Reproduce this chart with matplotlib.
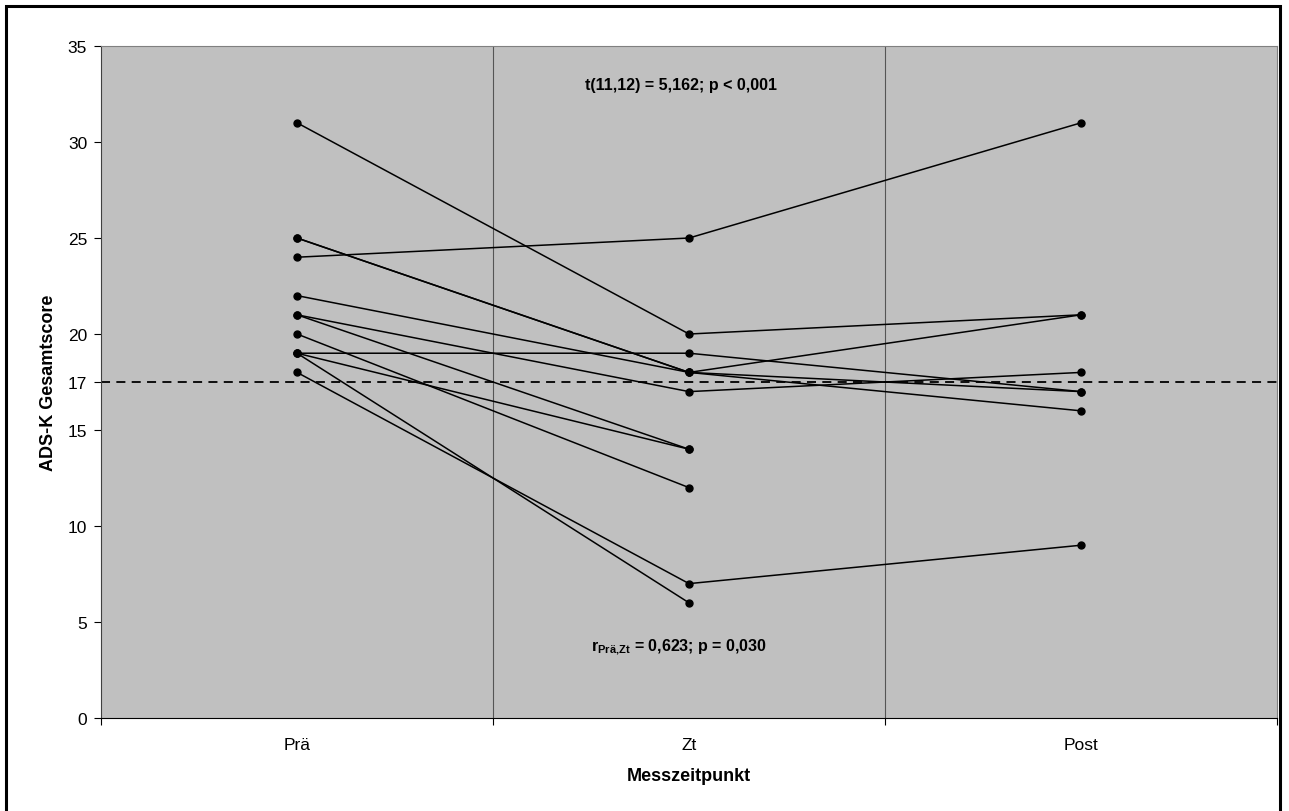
import matplotlib.pyplot as plt
from matplotlib.patches import Rectangle

plt.rcParams['font.family'] = ['Liberation Sans', 'DejaVu Sans']
plt.rcParams['mathtext.fontset'] = 'custom'
plt.rcParams['mathtext.rm'] = 'Liberation Sans'
plt.rcParams['mathtext.bf'] = 'Liberation Sans:bold'

# data: one row per participant (None = no value at that time point)
timepoints = ["Prä", "Zt", "Post"]
pre = [31, 24, 25, 25, 22, 21, 21, 19, 20, 19, 19, 18]
zt = [20, 25, 18, 18, 18, 17, 14, 19, 12, 14, 6, 7]
post = [21, 31, 21, 16, 17, 18, None, 17, None, None, None, 9]
cutoff = 17.5
yticks = [0, 5, 10, 15, 17.5, 20, 25, 30, 35]
yticklabels = ["0", "5", "10", "15", "17", "20", "25", "30", "35"]

fig = plt.figure(figsize=(12.89, 8.12), dpi=100)
ax = fig.add_axes([0.0784, 0.1145, 0.9123, 0.8276])
ax.set_facecolor('#C0C0C0')

for a, b, c in zip(pre, zt, post):
    xs, ys = [], []
    for i, v in enumerate([a, b, c]):
        if v is not None:
            xs.append(i)
            ys.append(v)
    ax.plot(xs, ys, color='black', lw=1.1, marker='o', markersize=5, zorder=3)

ax.axhline(cutoff, color='black', lw=1.3, ls=(0, (5, 3.5)), zorder=2)
for xb in [0.5, 1.5]:
    ax.axvline(xb, color='#555555', lw=0.8, zorder=1)

ax.set_xlim(-0.5, 2.5)
ax.set_ylim(0, 35)
ax.set_yticks(yticks)
ax.set_yticklabels(yticklabels, fontsize=12.5)
ax.set_xticks([-0.5, 0.5, 1.5, 2.5])
ax.set_xticklabels([])
ax.set_xticks([0, 1, 2], minor=True)
ax.set_xticklabels(timepoints, minor=True, fontsize=12.5)
ax.tick_params(axis='x', which='minor', length=0, pad=14)
ax.tick_params(axis='x', which='major', length=5, direction='out')
ax.tick_params(axis='y', length=5, direction='out', pad=5)

ax.spines['top'].set_color('#808080')
ax.spines['right'].set_color('#808080')
ax.spines['left'].set_color('#404040')
ax.spines['bottom'].set_color('black')

ax.set_ylabel("ADS-K Gesamtscore", fontsize=13, fontweight='bold')
ax.set_xlabel("Messzeitpunkt", fontsize=13, fontweight='bold')
ax.yaxis.set_label_coords(-0.0375, 0.5)
ax.xaxis.set_label_coords(0.5, -0.073)

ax.text(0.98, 33.0, "t(11,12) = 5,162; p < 0,001", ha='center', va='center',
        fontsize=11.5, fontweight='bold')
ax.text(0.975, 3.75, r"r$_{\mathbf{Prä{,}Zt}}$ = 0,623; p = 0,030", ha='center', va='center',
        fontsize=11.5, fontweight='bold')

fig.patches.append(Rectangle((6 / 1289, -0.01), 1274 / 1289, 1.01 - 7 / 812,
                             transform=fig.transFigure, fill=False,
                             edgecolor='black', lw=2.2))

fig.savefig("out.png", dpi=100)
